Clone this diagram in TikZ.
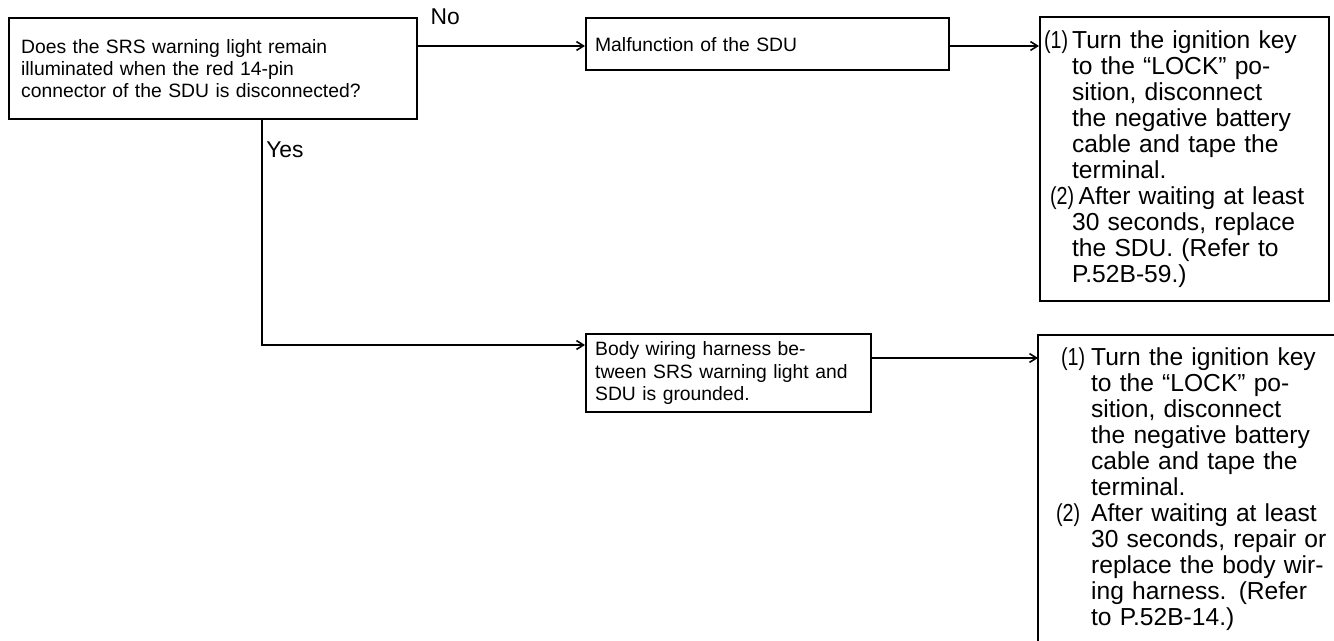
\documentclass[tikz,border=0pt]{standalone}
\usepackage{fontspec}
\usepackage{graphicx}
\setmainfont{Liberation Sans}
\usetikzlibrary{arrows.meta,positioning}
\tikzset{
  box/.style={draw,line width=1.3pt,anchor=north west,inner xsep=0.08cm,inner ysep=0pt,
    font=\fontsize{11}{12.6}\selectfont},
  stepbox/.style={box,font=\fontsize{14}{14.8}\selectfont},
  openbox/.style={stepbox,draw=none},
  edge/.style={line width=1.3pt},
  flow/.style={line width=0.9pt,->,>={Straight Barb[length=4pt,width=5pt]}},
  lbl/.style={inner sep=2pt,font=\fontsize{13}{14}\selectfont}
}
\newcommand{\lab}[1]{\scalebox{0.8}[1]{#1}}
\newcommand{\rag}{\parindent=0pt\rightskip=0pt plus 1fil\relax}
\newcommand{\numpar}[3]{{\leftskip=#1\noindent\hspace*{-#1}#2#3\par}}

\begin{document}
\begin{tikzpicture}[x=0.02cm,y=-0.02cm]
  \useasboundingbox (0,0) rectangle (1334,641);
  % question and the two findings
  \node[box,inner xsep=0.24cm,text width=7.68cm,minimum height=2.02cm] (q) at (8,17)
    {\rag Does the SRS warning light remain\\illuminated when the red 14-pin\\connector of the SDU is disconnected?\par\vskip 0.26cm};
  \node[box,inner xsep=0.18cm,text width=6.9cm,minimum height=1.04cm] (m) at (585,17) {\rag Malfunction of the SDU};
  \node[box,inner xsep=0.18cm,text width=5.34cm,minimum height=1.56cm] (h) at (585,333)
    {\rag Body wiring harness be-\\tween SRS warning light and\\SDU is grounded.};
  % remedies
  \node[stepbox,text width=5.62cm,minimum height=5.68cm] (r1) at (1039,16) {\rag
    \numpar{0.56cm}{\makebox[0.56cm][l]{\lab{(1)}}}{Turn the ignition key\\to the “LOCK” po-\\sition, disconnect\\the negative battery\\cable and tape the\\terminal.}
    \numpar{0.56cm}{\hspace{0.12cm}\lab{(2)}\hspace{2.5pt}}{After waiting at least\\30 seconds, replace\\the SDU. (Refer to\\P.52B-59.)}};
  \node[openbox,text width=5.76cm,minimum height=6.12cm] (r2) at (1038,335) {\rag
    \numpar{0.96cm}{\makebox[0.96cm][l]{\hspace{0.36cm}\lab{(1)}}}{Turn the ignition key\\to the “LOCK” po-\\sition, disconnect\\the negative battery\\cable and tape the\\terminal.}
    \numpar{0.96cm}{\makebox[0.96cm][l]{\hspace{0.26cm}\lab{(2)}}}{After waiting at least\\30 seconds, repair or\\replace the body wir-\\ing harness. (Refer\\to P.52B-14.)}};
  \draw[edge] (r2.north east) -- (r2.north west) -- (r2.south west);
  \coordinate (r2in) at ([yshift=-0.46cm]r2.north west);
  % connectors
  \node[lbl,anchor=west] (no) at ([xshift=0.17cm]q.north east) {No};
  \draw[flow] ([yshift=-0.58cm]q.north east) -- ([yshift=-0.58cm]q.north east -| m.west);
  \draw[flow] ([yshift=-0.58cm]m.north east) -- ([yshift=-0.58cm]m.north east -| r1.west);
  \draw[flow] ([xshift=5.08cm]q.south west) |- node[lbl,pos=0.066,right] {Yes} ([yshift=-0.24cm]h.north west);
  \draw[flow] (h.east |- r2in) -- (r2in);
\end{tikzpicture}
\end{document}
